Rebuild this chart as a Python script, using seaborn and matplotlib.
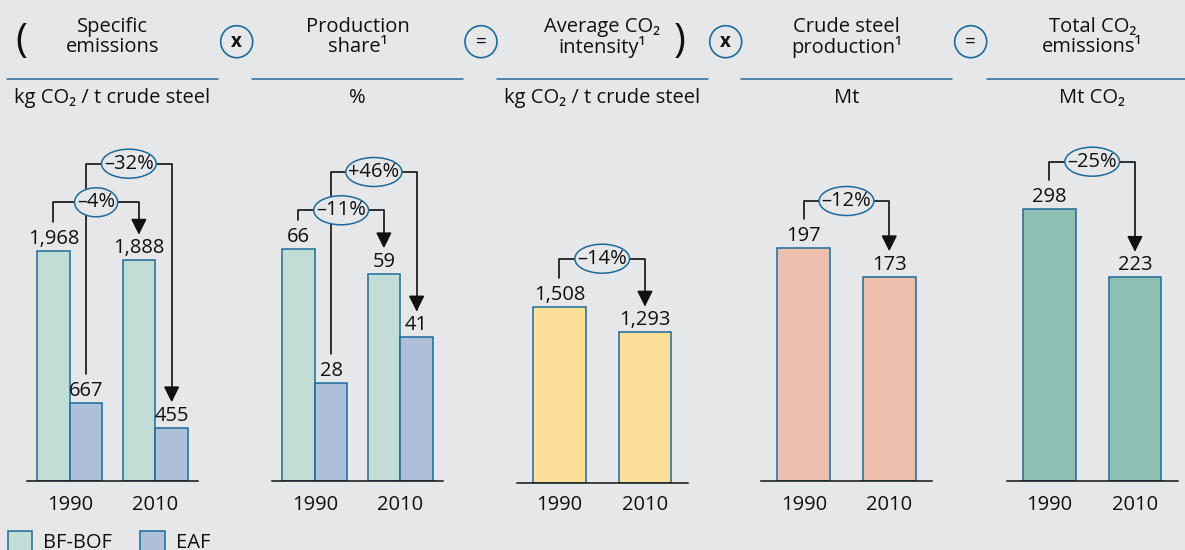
import numpy as np
import pandas as pd
import matplotlib
matplotlib.use("Agg")
import matplotlib.pyplot as plt
import seaborn as sns
from matplotlib.patches import Ellipse, FancyArrowPatch, Patch
from matplotlib.path import Path
from matplotlib.lines import Line2D
from matplotlib.transforms import IdentityTransform

# ---------------- data ----------------
years = ["1990", "2010"]
techs = ["BF-BOF", "EAF"]
specific_bfbof = [1968, 1888]
specific_eaf = [667, 455]
share_bfbof = [66, 59]
share_eaf = [28, 41]
avg_intensity = [1508, 1293]
crude_steel = [197, 173]
total_co2 = [298, 223]

title_line1 = ["Specific", "Production", "Average CO₂", "Crude steel", "Total CO₂"]
title_line2 = ["emissions", "share¹", "intensity¹", "production¹", "emissions¹"]
units = ["kg CO₂ / t crude steel", "%", "kg CO₂ / t crude steel", "Mt", "Mt CO₂"]
operators = ["x", "=", "x", "="]

# change annotations: (panel, hue or None, label)
change_panel = [0, 0, 1, 1, 2, 3, 4]
change_hue = ["BF-BOF", "EAF", "BF-BOF", "EAF", None, None, None]
change_label = ["–4%", "–32%", "–11%", "+46%", "–14%", "–12%", "–25%"]

# ---------------- style ----------------
W, H = 1185, 550
BG = "#e6e7e9"
EDGE = "#1e6b9a"
LINEBLUE = "#2a6b97"
C_BF = "#c2ddd6"
C_EAF = "#aebfda"
C_AVG = "#fedf98"
C_PROD = "#edc0ad"
C_TOT = "#8ebfb3"
FS = 14.5

sns.set_theme(style="white")
plt.rcParams["font.family"] = ["Open Sans", "Noto Sans", "DejaVu Sans"]
plt.rcParams["text.color"] = "#111111"

fig = plt.figure(figsize=(W / 100, H / 100), dpi=100, facecolor=BG)
renderer = fig.canvas.get_renderer()

panel_x0 = [27, 272, 516.7, 761, 1006.7]
panel_bottom = [481, 481, 483.3, 481, 481]
panel_top = 140
panel_w = 171
# units per pixel, so bar heights match the reference
panel_scale = [8.55, 0.2847, 8.55, 0.847, 1.095]

axes = []
for i in range(5):
    b = panel_bottom[i]
    ax = fig.add_axes([panel_x0[i] / W, (H - b) / H, panel_w / W, (b - panel_top) / H])
    ax.set_facecolor("none")
    axes.append(ax)

# grouped panels
df1 = pd.DataFrame({"year": years * 2,
                    "tech": [techs[0]] * 2 + [techs[1]] * 2,
                    "value": specific_bfbof + specific_eaf})
df2 = pd.DataFrame({"year": years * 2,
                    "tech": [techs[0]] * 2 + [techs[1]] * 2,
                    "value": share_bfbof + share_eaf})
pal = {techs[0]: C_BF, techs[1]: C_EAF}
GW = 0.766
for ax, df in [(axes[0], df1), (axes[1], df2)]:
    sns.barplot(data=df, x="year", y="value", hue="tech", order=years, hue_order=techs,
                palette=pal, width=GW, saturation=1, edgecolor=EDGE, linewidth=1.1,
                errorbar=None, legend=False, ax=ax)

SW = 0.617
for ax, vals, col in [(axes[2], avg_intensity, C_AVG), (axes[3], crude_steel, C_PROD),
                      (axes[4], total_co2, C_TOT)]:
    sns.barplot(x=years, y=vals, order=years, color=col, width=SW, saturation=1,
                edgecolor=EDGE, linewidth=1.1, errorbar=None, ax=ax)

for i, ax in enumerate(axes):
    b = panel_bottom[i]
    ax.set_xlim(-0.5, 1.5)
    ax.set_ylim(0, (b - panel_top) * panel_scale[i])
    ax.set_yticks([])
    ax.set_xlabel("")
    ax.set_ylabel("")
    for s in ["left", "right", "top"]:
        ax.spines[s].set_visible(False)
    ax.spines["bottom"].set_color("#111111")
    ax.spines["bottom"].set_linewidth(1.1)
    ax.tick_params(axis="x", length=0, pad=10 - (b - 481) * 0.72, labelsize=FS,
                   labelcolor="#111111")
    for cont in ax.containers:
        ax.bar_label(cont, fmt="{:,.0f}", padding=1.5, fontsize=FS, color="#111111")

# ---------------- header ----------------
centers = [x + panel_w / 2 for x in panel_x0]
for i in range(5):
    cx = centers[i]
    fig.text(cx / W, 1 - 26.7 / H, title_line1[i], ha="center", va="center", fontsize=FS)
    fig.text(cx / W, 1 - 46.7 / H, title_line2[i], ha="center", va="center", fontsize=FS)
    fig.text(cx / W, 1 - 98.3 / H, units[i], ha="center", va="center", fontsize=FS)
    fig.add_artist(Line2D([(cx - 105.5) / W, (cx + 105.5) / W], [1 - 79 / H, 1 - 79 / H],
                          transform=fig.transFigure, color=LINEBLUE, lw=1.1))

op_x = [236.7, 481, 725.7, 970.7]
for x, op in zip(op_x, operators):
    fig.add_artist(Ellipse((x, H - 41.7), 32, 32, transform=IdentityTransform(),
                           facecolor="none", edgecolor=EDGE, lw=1.2))
    fig.text(x / W, 1 - 41.7 / H, op, ha="center", va="center", fontsize=FS - 1,
             fontweight="bold" if op == "x" else "normal")

fig.text(21.7 / W, 1 - 42 / H, "(", ha="center", va="center", fontsize=29)
fig.text(680 / W, 1 - 42 / H, ")", ha="center", va="center", fontsize=29)

# ---------------- change brackets ----------------
bracket_top_px = [202.3, 163.7, 210.3, 172, 258.7, 201, 161.7]
hue_off = {"BF-BOF": -GW / 4, "EAF": GW / 4, None: 0.0}
value_map = {
    (0, "BF-BOF"): specific_bfbof, (0, "EAF"): specific_eaf,
    (1, "BF-BOF"): share_bfbof, (1, "EAF"): share_eaf,
    (2, None): avg_intensity, (3, None): crude_steel, (4, None): total_co2,
}
for k in range(len(change_label)):
    p = change_panel[k]
    hkey = change_hue[k]
    ax = axes[p]
    vals = value_map[(p, hkey)]
    xs, ys = ax.transData.transform((0 + hue_off[hkey], vals[0]))
    xe, ye = ax.transData.transform((1 + hue_off[hkey], vals[1]))
    y_start = ys + 29
    y_tip = ye + 25.5
    y_top = H - bracket_top_px[k]
    path = Path([(xs, y_start), (xs, y_top), (xe, y_top), (xe, y_tip)],
                [Path.MOVETO, Path.LINETO, Path.LINETO, Path.LINETO])
    arr = FancyArrowPatch(path=path, arrowstyle="-|>,head_length=0.68,head_width=0.34",
                          mutation_scale=14, color="#111111", lw=1.2,
                          transform=IdentityTransform(), zorder=3)
    fig.add_artist(arr)
    cx = (xs + xe) / 2
    t = fig.text(cx / W, y_top / H, change_label[k], ha="center", va="center",
                 fontsize=FS, zorder=6)
    bb = t.get_window_extent(renderer)
    fig.add_artist(Ellipse((cx, y_top), bb.width + 5, 29, transform=IdentityTransform(),
                           facecolor=BG, edgecolor=EDGE, lw=1.1, zorder=5))

# ---------------- legend ----------------
handles = [Patch(facecolor=C_BF, edgecolor=EDGE, lw=1.1),
           Patch(facecolor=C_EAF, edgecolor=EDGE, lw=1.1)]
fig.legend(handles, techs, loc="upper left", bbox_to_anchor=(8 / W, 1 - 531 / H),
           ncol=2, frameon=False, fontsize=FS, handlelength=1.2, handleheight=1.2,
           handletextpad=0.55, columnspacing=1.4, borderpad=0, borderaxespad=0)

fig.savefig("out.png", dpi=100, facecolor=BG)
